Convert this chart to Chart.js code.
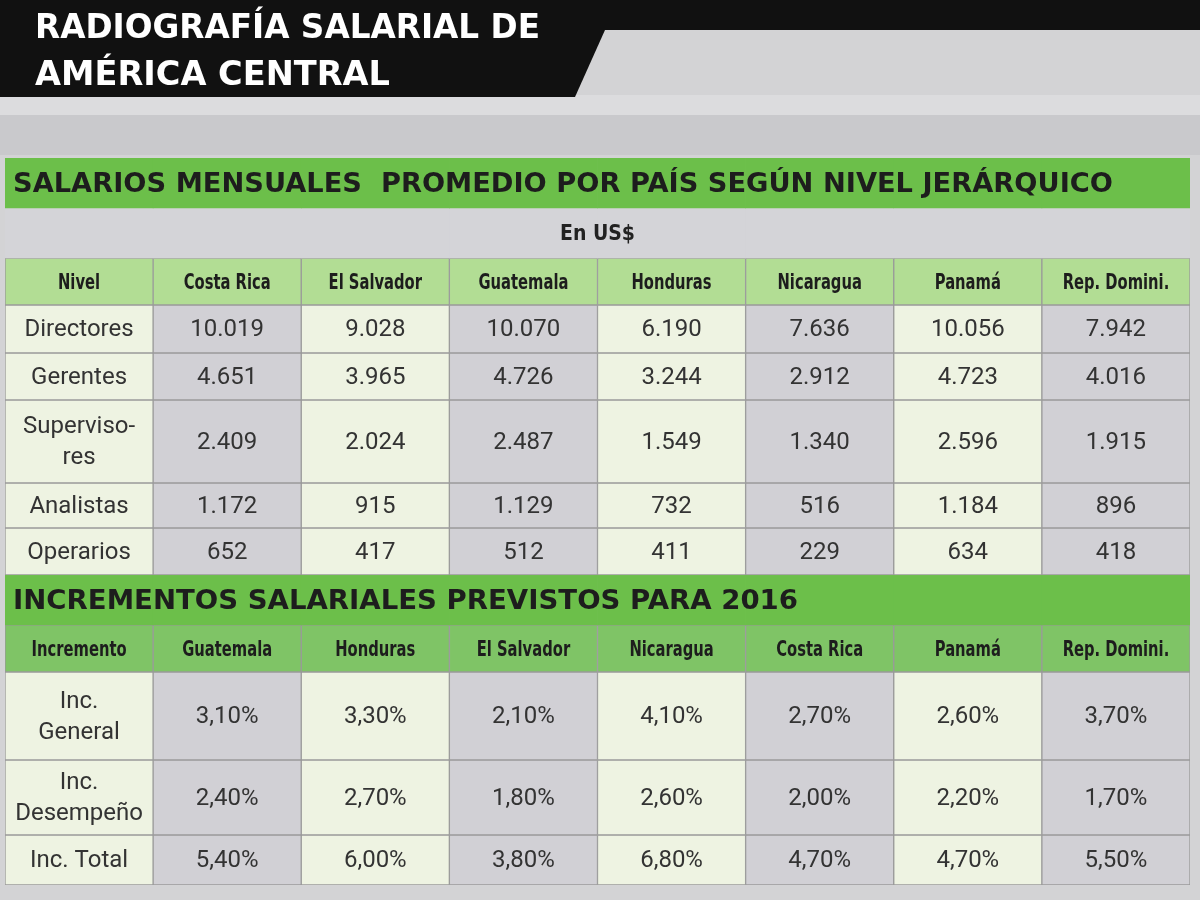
<!DOCTYPE html>
<html><head><meta charset="utf-8">
<script src="https://cdn.jsdelivr.net/npm/chart.js@4"></script>
<style>html,body{margin:0;padding:0;background:#d3d3d5}#w{width:1200px;height:900px;position:relative}</style>
</head><body><div id="w"><canvas id="c" width="1200" height="900"></canvas></div>
<script>
const title = ["RADIOGRAFÍA SALARIAL DE", "AMÉRICA CENTRAL"];
const section1 = "SALARIOS MENSUALES  PROMEDIO POR PAÍS SEGÚN NIVEL JERÁRQUICO";
const unitLabel = "En US$";
const header1 = ["Nivel","Costa Rica","El Salvador","Guatemala","Honduras","Nicaragua","Panamá","Rep. Domini."];
const levels = [["Directores"],["Gerentes"],["Supervisо-".replace("о","o"),"res"],["Analistas"],["Operarios"]];
const directores = ["10.019","9.028","10.070","6.190","7.636","10.056","7.942"];
const gerentes = ["4.651","3.965","4.726","3.244","2.912","4.723","4.016"];
const supervisores = ["2.409","2.024","2.487","1.549","1.340","2.596","1.915"];
const analistas = ["1.172","915","1.129","732","516","1.184","896"];
const operarios = ["652","417","512","411","229","634","418"];
const section2 = "INCREMENTOS SALARIALES PREVISTOS PARA 2016";
const header2 = ["Incremento","Guatemala","Honduras","El Salvador","Nicaragua","Costa Rica","Panamá","Rep. Domini."];
const incLabels = [["Inc.","General"],["Inc.","Desempeño"],["Inc. Total"]];
const incGeneral = ["3,10%","3,30%","2,10%","4,10%","2,70%","2,60%","3,70%"];
const incDesempeno = ["2,40%","2,70%","1,80%","2,60%","2,00%","2,20%","1,70%"];
const incTotal = ["5,40%","6,00%","3,80%","6,80%","4,70%","4,70%","5,50%"];

// table rows: type, texts per column
const rows = [
  {t:"section", text:section1, h:50, w:1100},
  {t:"unit", text:unitLabel, h:50},
  {t:"head", cells:header1.map(s=>[s]), h:47, col:"#b2dd94"},
  {t:"body", cells:[levels[0]].concat(directores.map(s=>[s])), h:48},
  {t:"body", cells:[levels[1]].concat(gerentes.map(s=>[s])), h:47},
  {t:"body", cells:[levels[2]].concat(supervisores.map(s=>[s])), h:83},
  {t:"body", cells:[levels[3]].concat(analistas.map(s=>[s])), h:45},
  {t:"body", cells:[levels[4]].concat(operarios.map(s=>[s])), h:47},
  {t:"section", text:section2, h:50, w:785},
  {t:"head", cells:header2.map(s=>[s]), h:47, col:"#7fc466"},
  {t:"body", cells:[incLabels[0]].concat(incGeneral.map(s=>[s])), h:88},
  {t:"body", cells:[incLabels[1]].concat(incDesempeno.map(s=>[s])), h:75},
  {t:"body", cells:[incLabels[2]].concat(incTotal.map(s=>[s])), h:50},
];
let acc=0; rows.forEach(r=>{r.top=acc; acc+=r.h; r.bot=acc;});
const total=acc;
const cols = header1.map((_,i)=>String(i));
function cellColor(r,ci){
  if(r.t==="section") return "#6cbf4a";
  if(r.t==="unit") return "#d4d4d8";
  if(r.t==="head") return r.col;
  return ci%2===0 ? "#eef3e2" : "#d1d0d5";
}
const datasets = rows.map(r=>({
  data: cols.map(()=>[r.top,r.bot]),
  backgroundColor: cols.map((_,ci)=>cellColor(r,ci)),
  borderColor: (r.t==="section"||r.t==="unit") ? cols.map((_,ci)=>cellColor(r,ci)) : "#9a9a9a",
  borderWidth: (r.t==="section"||r.t==="unit") ? 0 : 1,
  borderSkipped:false,
  barPercentage:1, categoryPercentage:1, grouped:false
}));

function fitText(ctx, s, x, y, font, width){
  ctx.font=font; const m=ctx.measureText(s).width;
  ctx.save(); ctx.translate(x,y); ctx.scale(width/m,1); ctx.fillText(s,0,0); ctx.restore();
}
const deco = {
  id:"deco",
  beforeDraw(ch){
    const ctx=ch.ctx;
    ctx.save();
    ctx.fillStyle="#d3d3d5"; ctx.fillRect(0,0,1200,900);
    ctx.fillStyle="#dcdcde"; ctx.fillRect(0,95,1200,20);
    ctx.fillStyle="#c9c9cc"; ctx.fillRect(0,115,1200,40);
    ctx.fillStyle="#111"; ctx.fillRect(0,0,1200,30);
    ctx.beginPath(); ctx.moveTo(0,0); ctx.lineTo(605,0); ctx.lineTo(605,30); ctx.lineTo(575,97); ctx.lineTo(0,97); ctx.closePath(); ctx.fill();
    ctx.fillStyle="#fff"; ctx.textBaseline="alphabetic"; ctx.textAlign="left";
    fitText(ctx,title[0],35,38,"bold 33px 'DejaVu Sans'",505);
    fitText(ctx,title[1],35,85,"bold 33px 'DejaVu Sans'",355);
    ctx.restore();
  },
  afterDatasetsDraw(ch){
    const ctx=ch.ctx, xs=ch.scales.x, ys=ch.scales.y;
    ctx.save(); ctx.textBaseline="middle"; ctx.fillStyle="#222";
    rows.forEach(r=>{
      const y0=ys.getPixelForValue(r.top), y1=ys.getPixelForValue(r.bot), ym=(y0+y1)/2;
      if(r.t==="section"){
        ctx.textAlign="left"; ctx.fillStyle="#1d1d1d";
        fitText(ctx,r.text,xs.left+8,ym+2,"bold 27px 'DejaVu Sans'",r.w);
      } else if(r.t==="unit"){
        ctx.textAlign="center"; ctx.fillStyle="#222"; ctx.font="bold 21px 'DejaVu Sans Condensed'";
        ctx.fillText(r.text,(xs.left+xs.right)/2,ym+2);
      } else {
        r.cells.forEach((lines,ci)=>{
          const x=xs.getPixelForValue(ci); ctx.textAlign="center";
          if(r.t==="head"){ ctx.fillStyle="#1d1d1d"; ctx.font="bold 20px 'DejaVu Sans Condensed'";
            const m=ctx.measureText(lines[0]).width; const tw=Math.min(m,130)*0.82;
            ctx.save(); ctx.translate(x,ym+2); ctx.scale(tw/m,1.1); ctx.fillText(lines[0],0,0); ctx.restore();
          } else {
            ctx.fillStyle="#333"; ctx.font="24px Roboto";
            const lh=31; const start=ym-(lines.length-1)*lh/2+1;
            lines.forEach((s,k)=>ctx.fillText(s,x,start+k*lh));
          }
        });
      }
    });
    ctx.restore();
  }
};
new Chart(document.getElementById("c"),{
  type:"bar",
  data:{labels:cols,datasets},
  options:{
    responsive:false, animation:false,
    layout:{padding:{left:5,right:10,top:158,bottom:15}},
    plugins:{legend:{display:false},tooltip:{enabled:false}},
    scales:{
      x:{type:"category",display:false,offset:true},
      y:{type:"linear",display:false,reverse:true,min:0,max:total}
    }
  },
  plugins:[deco]
});
</script></body></html>
